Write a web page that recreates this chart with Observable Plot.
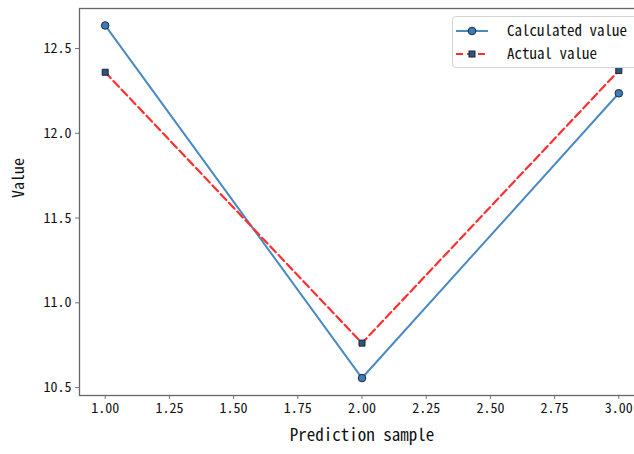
<!DOCTYPE html>
<html>
<head>
<meta charset="utf-8">
<script src="https://cdn.jsdelivr.net/npm/d3@7"></script>
<script src="https://cdn.jsdelivr.net/npm/@observablehq/plot@0.6"></script>
<style>
  html, body { margin: 0; padding: 0; background: #fff; overflow: hidden; }
  #wrap { position: relative; width: 634px; height: 454px; }
  #legend { position: absolute; left: 452px; top: 16px; width: 200px; height: 52px;
    border: 1px solid #d4d4d4; border-radius: 4px; background: rgba(255,255,255,0.9); box-sizing: border-box; }
</style>
</head>
<body>
<div id="wrap"></div>
<script>
const samples = [1, 2, 3];
const calculated = [12.636, 10.556, 12.236];
const actual = [12.36, 10.762, 12.37];
const xTicks = [1.00, 1.25, 1.50, 1.75, 2.00, 2.25, 2.50, 2.75, 3.00];
const yTicks = [10.5, 11.0, 11.5, 12.0, 12.5];
const seriesNames = ["Calculated value", "Actual value"];
const xLabel = "Prediction sample";
const yLabel = "Value";

const blue = "#4a8ac4", red = "#ff3030";
const calcData = samples.map((x, i) => ({x, y: calculated[i]}));
const actData = samples.map((x, i) => ({x, y: actual[i]}));
const font = '"Noto Sans Mono CJK SC", "Noto Sans Mono CJK JP", "DejaVu Sans Mono", monospace';

const chart = Plot.plot({
  width: 634, height: 454,
  marginLeft: 79, marginRight: -10, marginTop: 8, marginBottom: 59,
  x: {domain: [0.9, 3.1]},
  y: {domain: [10.453, 12.736]},
  style: {fontFamily: font, fontSize: "14px", color: "#111", overflow: "visible"},
  marks: [
    Plot.axisX({ticks: xTicks, tickFormat: d3.format(".2f"), tickSize: 4, tickPadding: 4, label: null, stroke: "#777", fill: "#111", fontSize: 14}),
    Plot.axisY({ticks: yTicks, tickFormat: d3.format(".1f"), tickSize: 4, tickPadding: 4, label: null, stroke: "#777", fill: "#111", fontSize: 14}),
    Plot.frame({stroke: "#666", strokeWidth: 1.3}),
    Plot.line(calcData, {x: "x", y: "y", stroke: blue, strokeWidth: 2}),
    Plot.line(actData, {x: "x", y: "y", stroke: red, strokeWidth: 2.2, strokeDasharray: "8,4"}),
    Plot.dot(calcData, {x: "x", y: "y", r: 3.8, fill: "#3d7cb8", stroke: "#1d2a38", strokeWidth: 1}),
    Plot.dot(actData, {x: "x", y: "y", symbol: "square", r: 3.4, fill: "#2c5680", stroke: "#1d2430", strokeWidth: 1}),
    Plot.text([xLabel], {frameAnchor: "bottom", dy: 45, fontSize: 17, fill: "#111"}),
    Plot.text([yLabel], {frameAnchor: "left", dx: -61, dy: -4, rotate: -90, fontSize: 16, fill: "#111"})
  ]
});
const wrap = document.getElementById("wrap");
wrap.appendChild(chart);

// legend (inside the plot area, upper right)
const legend = d3.select(wrap).append("div").attr("id", "legend");
const svg = legend.append("svg").attr("width", 200).attr("height", 52).style("position", "absolute").style("left", "-1px").style("top", "-1px");
const rows = [
  {name: seriesNames[0], color: blue, dash: null, symbol: "circle"},
  {name: seriesNames[1], color: red, dash: "7,4", symbol: "square"}
];
rows.forEach((r, i) => {
  const cy = 15 + i * 23;
  svg.append("line").attr("x1", 4).attr("x2", 36).attr("y1", cy).attr("y2", cy)
    .attr("stroke", r.color).attr("stroke-width", 2).attr("stroke-dasharray", r.dash);
  if (r.symbol === "circle") {
    svg.append("circle").attr("cx", 20).attr("cy", cy).attr("r", 3.8).attr("fill", "#3d7cb8").attr("stroke", "#1d2a38");
  } else {
    svg.append("rect").attr("x", 17).attr("y", cy - 3).attr("width", 6).attr("height", 6).attr("fill", "#2c5680").attr("stroke", "#1d2430");
  }
  svg.append("text").attr("x", 55).attr("y", cy).attr("dy", "0.35em")
    .attr("font-family", font).attr("font-size", 15).attr("fill", "#111").text(r.name);
});
</script>
</body>
</html>
